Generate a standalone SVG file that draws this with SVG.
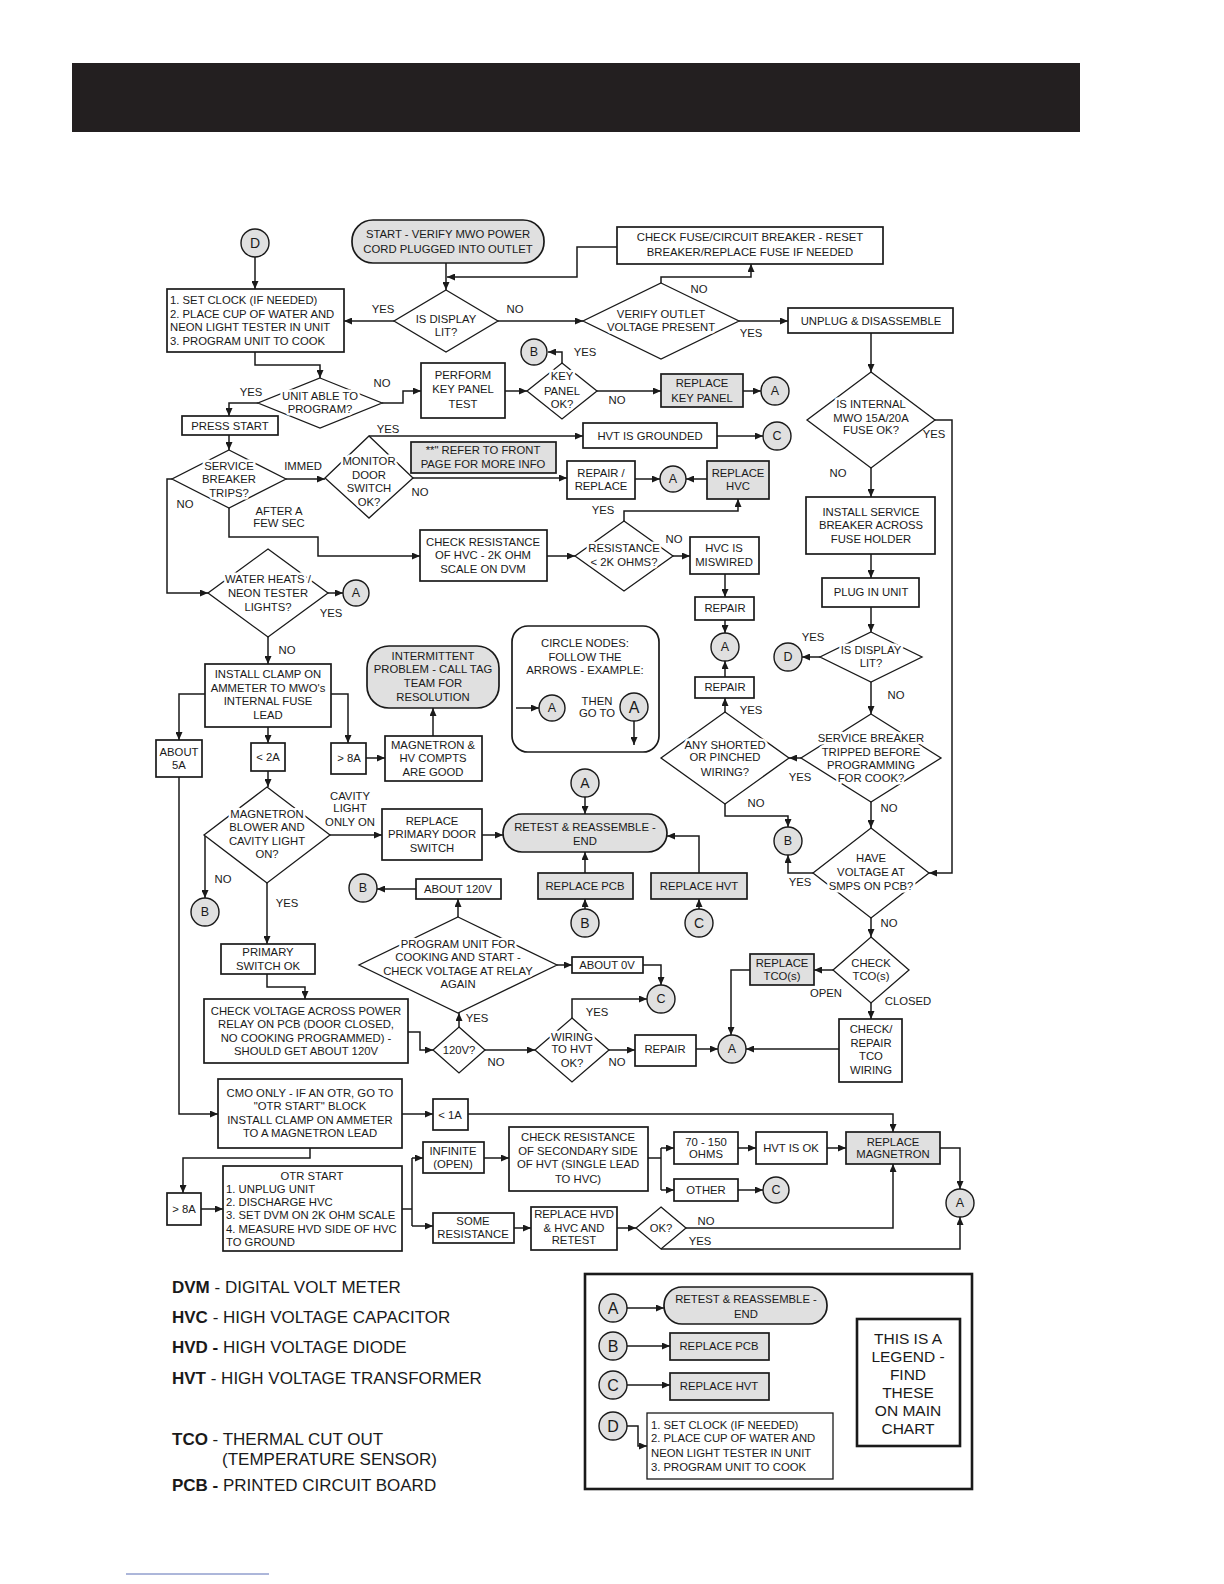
<svg xmlns="http://www.w3.org/2000/svg" width="1224" height="1584" viewBox="0 0 1224 1584">
<style>
.b{fill:#fff;stroke:#1a1a1a;stroke-width:1.7}
.g{fill:#e0e0e0;stroke:#1a1a1a;stroke-width:1.7}
.d{fill:#fff;stroke:#1a1a1a;stroke-width:1.3}
.c{fill:#e0e0e0;stroke:#1a1a1a;stroke-width:1.4}
.k{fill:none;stroke:#1a1a1a;stroke-width:1.5}
.a{marker-end:url(#ah)}
text{font-family:"Liberation Sans",Arial,Helvetica,sans-serif;font-size:11.3px;fill:#1a1a1a;text-anchor:middle}
.l{text-anchor:start}
.h{paint-order:stroke;stroke:#fff;stroke-width:5px;stroke-linejoin:round}
.cl{font-size:12.5px}
.big{font-size:16px}
.leg{font-size:17px;text-anchor:start}
</style>
<defs>
<marker id="ah" viewBox="0 0 8 7" refX="8" refY="3.5" markerWidth="8" markerHeight="7" orient="auto" markerUnits="userSpaceOnUse"><path d="M0,0 L8,3.5 L0,7 z" fill="#1a1a1a"/></marker>
</defs>
<rect x="0" y="0" width="1224" height="1584" fill="#fff"/>
<rect id="banner" x="72" y="63" width="1008" height="69" fill="#231f20"/>

<g id="connectors" class="k">
<path class="a" d="M255,257 V289"/>
<path class="a" d="M446,263 V290"/>
<path class="a" d="M617,247 H577 V277 H447"/>
<path class="a" d="M394,321 H344"/>
<path class="a" d="M498,321 H583"/>
<path class="a" d="M661,283 V277 H751 V264"/>
<path class="a" d="M739,321 H788"/>
<path class="a" d="M255,352 V365 H320 V378"/>
<path class="a" d="M258,403 H229 V416"/>
<path class="a" d="M382,403 H403 V391 H421"/>
<path class="a" d="M229,435 V450"/>
<path class="a" d="M172,479 H167 V593 H208"/>
<path class="a" d="M286,479 H325"/>
<path class="a" d="M229,508 V537 H318 V556 H420"/>
<path class="a" d="M369,436 H583"/>
<path class="a" d="M413,478 H567"/>
<path class="a" d="M505,391 H527"/>
<path class="a" d="M562,363 V352 H548"/>
<path class="a" d="M597,391 H661"/>
<path class="a" d="M743,391 H761"/>
<path class="a" d="M717,436 H763"/>
<path class="a" d="M635,479 H660"/>
<path class="a" d="M707,479 H686"/>
<path class="a" d="M547,556 H575"/>
<path class="a" d="M624,521 V511 H738 V499"/>
<path class="a" d="M673,556 H690"/>
<path class="a" d="M725,574 V597"/>
<path class="a" d="M725,620 V633"/>
<path class="a" d="M725,677 V661"/>
<path class="a" d="M725,712 V698"/>
<path class="a" d="M725,804 V816 H788 V827"/>
<path class="a" d="M801,758 H789"/>
<path class="a" d="M871,333 V372"/>
<path class="a" d="M935,420 H952 V873 H929"/>
<path class="a" d="M871,468 V497"/>
<path class="a" d="M871,554 V578"/>
<path class="a" d="M871,607 V632"/>
<path class="a" d="M820,657 H802"/>
<path class="a" d="M871,682 V714"/>
<path class="a" d="M871,802 V828"/>
<path class="a" d="M813,873 H788 V855"/>
<path class="a" d="M871,918 V937"/>
<path class="a" d="M833,970 H814"/>
<path class="a" d="M750,970 H731 V1035"/>
<path class="a" d="M871,1003 V1019"/>
<path class="a" d="M839,1049 H746"/>
<path class="a" d="M696,1049 H718"/>
<path class="a" d="M609,1050 H635"/>
<path class="a" d="M572,1018 V999 H647"/>
<path class="a" d="M643,965 H661 V985"/>
<path class="a" d="M557,965 H572"/>
<path class="a" d="M458,917 V899"/>
<path class="a" d="M416,889 H377"/>
<path class="a" d="M459,1027 V1013"/>
<path class="a" d="M485,1050 H535"/>
<path class="a" d="M408,1032 H420 V1050 H433"/>
<path class="a" d="M267,974 V987 H305 V999"/>
<path class="a" d="M267,883 V944"/>
<path class="a" d="M205,835 V898"/>
<path class="a" d="M330,835 H382"/>
<path class="a" d="M482,835 H503"/>
<path class="a" d="M585,797 V814"/>
<path class="a" d="M585,873 V852"/>
<path class="a" d="M585,909 V899"/>
<path class="a" d="M699,873 V836 H667"/>
<path class="a" d="M699,909 V899"/>
<path class="a" d="M328,593 H343"/>
<path class="a" d="M268,637 V664"/>
<path class="a" d="M205,694 H179 V740"/>
<path class="a" d="M331,694 H348 V743"/>
<path class="a" d="M268,727 V743"/>
<path class="a" d="M268,771 V787"/>
<path class="a" d="M366,758 H385"/>
<path class="a" d="M433,736 V708"/>
<path class="a" d="M179,777 V1114 H218"/>
<path class="a" d="M402,1114 H433"/>
<path class="a" d="M468,1114 H893 V1132"/>
<path class="a" d="M310,1148 V1158 H183 V1193"/>
<path class="a" d="M201,1209 H223"/>
<path d="M402,1209 H412 M412,1158 V1226"/>
<path class="a" d="M412,1158 H423"/>
<path class="a" d="M412,1226 H433"/>
<path class="a" d="M484,1158 H509"/>
<path class="a" d="M514,1228 H531"/>
<path class="a" d="M617,1228 H636"/>
<path class="a" d="M686,1228 H893 V1164"/>
<path class="a" d="M661,1249 H960 V1217"/>
<path d="M648,1158 H661 M661,1148 V1190"/>
<path class="a" d="M661,1148 H674"/>
<path class="a" d="M661,1190 H674"/>
<path class="a" d="M738,1148 H756"/>
<path class="a" d="M827,1148 H846"/>
<path class="a" d="M940,1148 H960 V1189"/>
<path class="a" d="M738,1190 H763"/>
<path class="a" d="M627,1308 H664"/>
<path class="a" d="M627,1346 H670"/>
<path class="a" d="M627,1385 H670"/>
<path class="a" d="M627,1426 H638 V1446 H647"/>
</g>

<g id="labels">
<text x="383" y="313">YES</text><text x="515" y="313">NO</text>
<text x="699" y="293">NO</text><text x="751" y="337">YES</text>
<text x="251" y="396">YES</text><text x="382" y="387">NO</text>
<text x="185" y="508">NO</text><text x="303" y="470">IMMED</text>
<text x="279" y="515">AFTER A</text><text x="279" y="527">FEW SEC</text>
<text x="388" y="433">YES</text><text x="420" y="496">NO</text>
<text x="585" y="356">YES</text><text x="617" y="404">NO</text>
<text x="603" y="514">YES</text><text x="674" y="543">NO</text>
<text x="751" y="714">YES</text><text x="756" y="807">NO</text>
<text x="800" y="781">YES</text>
<text x="934" y="438">YES</text><text x="838" y="477">NO</text>
<text x="813" y="641">YES</text><text x="896" y="699">NO</text>
<text x="889" y="812">NO</text>
<text x="800" y="886">YES</text><text x="889" y="927">NO</text>
<text x="826" y="997">OPEN</text><text x="908" y="1005">CLOSED</text>
<text x="597" y="1016">YES</text><text x="617" y="1066">NO</text>
<text x="477" y="1022">YES</text><text x="496" y="1066">NO</text>
<text x="350" y="800">CAVITY</text><text x="350" y="812">LIGHT</text><text x="350" y="826">ONLY ON</text>
<text x="223" y="883">NO</text><text x="287" y="907">YES</text>
<text x="331" y="617">YES</text><text x="287" y="654">NO</text>
<text x="706" y="1225">NO</text><text x="700" y="1245">YES</text>
</g>

<g id="n-setclock"><rect class="b" x="167" y="289" width="177" height="63"/>
<text class="l" x="170" y="304">1. SET CLOCK (IF NEEDED)</text><text class="l" x="170" y="318">2. PLACE CUP OF WATER AND</text><text class="l" x="170" y="331">NEON LIGHT TESTER IN UNIT</text><text class="l" x="170" y="345">3. PROGRAM UNIT TO COOK</text></g>
<g id="n-start"><rect class="g" x="352" y="220" width="192" height="43" rx="21"/>
<text x="448" y="238">START - VERIFY MWO POWER</text><text x="448" y="253">CORD PLUGGED INTO OUTLET</text></g>
<g id="n-checkfuse"><rect class="b" x="617" y="227" width="266" height="37"/>
<text x="750" y="241">CHECK FUSE/CIRCUIT BREAKER - RESET</text><text x="750" y="256">BREAKER/REPLACE FUSE IF NEEDED</text></g>
<g id="n-display1"><polygon class="d" points="446,290 498,321 446,352 394,321"/>
<text class="h" x="446" y="323">IS DISPLAY</text><text class="h" x="446" y="336">LIT?</text></g>
<g id="n-verify"><polygon class="d" points="661,283 739,321 661,359 583,321"/>
<text class="h" x="661" y="318">VERIFY OUTLET</text><text class="h" x="661" y="331">VOLTAGE PRESENT</text></g>
<g id="n-unplug"><rect class="b" x="788" y="308" width="165" height="25"/><text x="871" y="325">UNPLUG &amp; DISASSEMBLE</text></g>
<g id="n-unitable"><polygon class="d" points="320,378 382,403 320,428 258,403"/>
<text class="h" x="320" y="400">UNIT ABLE TO</text><text class="h" x="320" y="413">PROGRAM?</text></g>
<g id="n-perform"><rect class="b" x="421" y="363" width="84" height="55"/>
<text x="463" y="379">PERFORM</text><text x="463" y="393">KEY PANEL</text><text x="463" y="408">TEST</text></g>
<g id="n-keypanel"><polygon class="d" points="562,363 597,391 562,419 527,391"/>
<text class="h" x="562" y="380">KEY</text><text class="h" x="562" y="395">PANEL</text><text class="h" x="562" y="408">OK?</text></g>
<g id="n-replkey"><rect class="g" x="661" y="374" width="82" height="33"/>
<text x="702" y="387">REPLACE</text><text x="702" y="402">KEY PANEL</text></g>
<g id="n-pressstart"><rect class="b" x="182" y="416" width="96" height="19"/><text x="230" y="430">PRESS START</text></g>
<g id="n-servtrips"><polygon class="d" points="229,450 286,479 229,508 172,479"/>
<text class="h" x="229" y="470">SERVICE</text><text class="h" x="229" y="483">BREAKER</text><text class="h" x="229" y="497">TRIPS?</text></g>
<g id="n-monitor"><polygon class="d" points="369,436 413,478 369,518 325,478"/>
<text class="h" x="369" y="465">MONITOR</text><text class="h" x="369" y="479">DOOR</text><text class="h" x="369" y="492">SWITCH</text><text class="h" x="369" y="506">OK?</text></g>
<g id="n-refer"><rect class="g" x="411" y="442" width="145" height="31"/>
<text x="483" y="454">**" REFER TO FRONT</text><text x="483" y="468">PAGE FOR MORE INFO</text></g>
<g id="n-hvtgnd"><rect class="b" x="583" y="423" width="134" height="25"/><text x="650" y="440">HVT IS GROUNDED</text></g>
<g id="n-repairrepl"><rect class="b" x="567" y="461" width="68" height="38"/>
<text x="601" y="477">REPAIR /</text><text x="601" y="490">REPLACE</text></g>
<g id="n-replhvc"><rect class="g" x="707" y="461" width="62" height="38"/>
<text x="738" y="477">REPLACE</text><text x="738" y="490">HVC</text></g>
<g id="n-checkres"><rect class="b" x="420" y="530" width="127" height="51"/>
<text x="483" y="546">CHECK RESISTANCE</text><text x="483" y="559">OF HVC - 2K OHM</text><text x="483" y="573">SCALE ON DVM</text></g>
<g id="n-resist"><polygon class="d" points="624,521 673,556 624,591 575,556"/>
<text class="h" x="624" y="552">RESISTANCE</text><text class="h" x="624" y="566">&lt; 2K OHMS?</text></g>
<g id="n-miswired"><rect class="b" x="690" y="537" width="69" height="37"/>
<text x="724" y="552">HVC IS</text><text x="724" y="566">MISWIRED</text></g>
<g id="n-repair1"><rect class="b" x="695" y="597" width="59" height="23"/><text x="725" y="612">REPAIR</text></g>
<g id="n-repair2"><rect class="b" x="695" y="677" width="59" height="21"/><text x="725" y="691">REPAIR</text></g>
<g id="n-shorted"><polygon class="d" points="725,712 789,758 725,804 661,758"/>
<text class="h" x="725" y="749">ANY SHORTED</text><text class="h" x="725" y="761">OR PINCHED</text><text class="h" x="725" y="776">WIRING?</text></g>
<g id="n-internal"><polygon class="d" points="871,372 935,420 871,468 807,420"/>
<text class="h" x="871" y="408">IS INTERNAL</text><text class="h" x="871" y="422">MWO 15A/20A</text><text class="h" x="871" y="434">FUSE OK?</text></g>
<g id="n-installsb"><rect class="b" x="806" y="497" width="129" height="57"/>
<text x="871" y="516">INSTALL SERVICE</text><text x="871" y="529">BREAKER ACROSS</text><text x="871" y="543">FUSE HOLDER</text></g>
<g id="n-plugin"><rect class="b" x="822" y="578" width="97" height="29"/><text x="871" y="596">PLUG IN UNIT</text></g>
<g id="n-display2"><polygon class="d" points="871,632 922,657 871,682 820,657"/>
<text class="h" x="871" y="654">IS DISPLAY</text><text class="h" x="871" y="667">LIT?</text></g>
<g id="n-tripped"><polygon class="d" points="871,714 941,758 871,802 801,758"/>
<text class="h" x="871" y="742">SERVICE BREAKER</text><text class="h" x="871" y="756">TRIPPED BEFORE</text><text class="h" x="871" y="769">PROGRAMMING</text><text class="h" x="871" y="782">FOR COOK?</text></g>
<g id="n-havevolt"><polygon class="d" points="871,828 929,873 871,918 813,873"/>
<text class="h" x="871" y="862">HAVE</text><text class="h" x="871" y="876">VOLTAGE AT</text><text class="h" x="871" y="890">SMPS ON PCB?</text></g>
<g id="n-checktco"><polygon class="d" points="871,937 909,970 871,1003 833,970"/>
<text class="h" x="871" y="967">CHECK</text><text class="h" x="871" y="980">TCO(s)</text></g>
<g id="n-repltco"><rect class="g" x="750" y="954" width="64" height="31"/>
<text x="782" y="967">REPLACE</text><text x="782" y="980">TCO(s)</text></g>
<g id="n-repairtco"><rect class="b" x="839" y="1019" width="63" height="63"/>
<text x="871" y="1033">CHECK/</text><text x="871" y="1047">REPAIR</text><text x="871" y="1060">TCO</text><text x="871" y="1074">WIRING</text></g>
<g id="n-repair3"><rect class="b" x="635" y="1035" width="61" height="31"/><text x="665" y="1053">REPAIR</text></g>
<g id="n-wiring"><polygon class="d" points="572,1018 609,1050 572,1082 535,1050"/>
<text class="h" x="572" y="1041">WIRING</text><text class="h" x="572" y="1053">TO HVT</text><text class="h" x="572" y="1067">OK?</text></g>
<g id="n-120v"><polygon class="d" points="459,1027 485,1050 459,1073 433,1050"/><text x="459" y="1054">120V?</text></g>
<g id="n-program"><polygon class="d" points="458,917 557,965 458,1013 359,965"/>
<text class="h" x="458" y="948">PROGRAM UNIT FOR</text><text class="h" x="458" y="961">COOKING AND START -</text><text class="h" x="458" y="975">CHECK VOLTAGE AT RELAY</text><text class="h" x="458" y="988">AGAIN</text></g>
<g id="n-about120"><rect class="b" x="416" y="879" width="85" height="20"/><text x="458" y="893">ABOUT 120V</text></g>
<g id="n-about0"><rect class="b" x="572" y="957" width="71" height="16"/><text x="607" y="969">ABOUT 0V</text></g>
<g id="n-magblower"><polygon class="d" points="267,787 330,835 267,883 204,835"/>
<text class="h" x="267" y="818">MAGNETRON</text><text class="h" x="267" y="831">BLOWER AND</text><text class="h" x="267" y="845">CAVITY LIGHT</text><text class="h" x="267" y="858">ON?</text></g>
<g id="n-primok"><rect class="b" x="221" y="944" width="94" height="30"/>
<text x="268" y="956">PRIMARY</text><text x="268" y="970">SWITCH OK</text></g>
<g id="n-checkvolt"><rect class="b" x="204" y="999" width="204" height="64"/>
<text x="306" y="1015">CHECK VOLTAGE ACROSS POWER</text><text x="306" y="1028">RELAY ON PCB (DOOR CLOSED,</text><text x="306" y="1042">NO COOKING PROGRAMMED) -</text><text x="306" y="1055">SHOULD GET ABOUT 120V</text></g>
<g id="n-replprim"><rect class="b" x="382" y="809" width="100" height="51"/>
<text x="432" y="825">REPLACE</text><text x="432" y="838">PRIMARY DOOR</text><text x="432" y="852">SWITCH</text></g>
<g id="n-retest"><rect class="g" x="503" y="814" width="164" height="38" rx="19"/>
<text x="585" y="831">RETEST &amp; REASSEMBLE -</text><text x="585" y="845">END</text></g>
<g id="n-replpcb"><rect class="g" x="538" y="873" width="95" height="26"/><text x="585" y="890">REPLACE PCB</text></g>
<g id="n-replhvt"><rect class="g" x="651" y="873" width="96" height="26"/><text x="699" y="890">REPLACE HVT</text></g>
<g id="n-water"><polygon class="d" points="268,549 328,593 268,637 208,593"/>
<text class="h" x="268" y="583">WATER HEATS /</text><text class="h" x="268" y="597">NEON TESTER</text><text class="h" x="268" y="611">LIGHTS?</text></g>
<g id="n-clamp"><rect class="b" x="205" y="664" width="126" height="63"/>
<text x="268" y="678">INSTALL CLAMP ON</text><text x="268" y="692">AMMETER TO MWO's</text><text x="268" y="705">INTERNAL FUSE</text><text x="268" y="719">LEAD</text></g>
<g id="n-about5"><rect class="b" x="156" y="740" width="46" height="37"/>
<text x="179" y="756">ABOUT</text><text x="179" y="769">5A</text></g>
<g id="n-lt2a"><rect class="b" x="251" y="743" width="34" height="28"/><text x="268" y="761">&lt; 2A</text></g>
<g id="n-gt8a"><rect class="b" x="331" y="743" width="35" height="31"/><text x="349" y="762">&gt; 8A</text></g>
<g id="n-maggood"><rect class="b" x="385" y="736" width="97" height="45"/>
<text x="433" y="749">MAGNETRON &amp;</text><text x="433" y="762">HV COMPTS</text><text x="433" y="776">ARE GOOD</text></g>
<g id="n-intermit"><rect class="g" x="367" y="646" width="132" height="62" rx="22"/>
<text x="433" y="660">INTERMITTENT</text><text x="433" y="673">PROBLEM - CALL TAG</text><text x="433" y="687">TEAM FOR</text><text x="433" y="701">RESOLUTION</text></g>
<g id="n-circlenote"><rect class="b" x="512" y="626" width="147" height="126" rx="16"/>
<text x="585" y="647">CIRCLE NODES:</text><text x="585" y="661">FOLLOW THE</text><text x="585" y="674">ARROWS - EXAMPLE:</text>
<text x="597" y="705">THEN</text><text x="597" y="717">GO TO</text>
<path class="k a" d="M516,708 H539"/>
<path class="k a" d="M634,721 V745"/></g>
<g id="n-cmo"><rect class="b" x="218" y="1079" width="184" height="69"/>
<text x="310" y="1097">CMO ONLY - IF AN OTR, GO TO</text><text x="310" y="1110">"OTR START" BLOCK</text><text x="310" y="1124">INSTALL CLAMP ON AMMETER</text><text x="310" y="1137">TO A MAGNETRON LEAD</text></g>
<g id="n-lt1a"><rect class="b" x="433" y="1099" width="35" height="31"/><text x="450" y="1119">&lt; 1A</text></g>
<g id="n-gt8a2"><rect class="b" x="167" y="1193" width="34" height="32"/><text x="184" y="1213">&gt; 8A</text></g>
<g id="n-otr"><rect class="b" x="223" y="1166" width="179" height="85"/>
<text x="312" y="1180">OTR START</text><text class="l" x="226" y="1193">1. UNPLUG UNIT</text><text class="l" x="226" y="1206">2. DISCHARGE HVC</text><text class="l" x="226" y="1219">3. SET DVM ON 2K OHM SCALE</text><text class="l" x="226" y="1233">4. MEASURE HVD SIDE OF HVC</text><text class="l" x="226" y="1246">TO GROUND</text></g>
<g id="n-infinite"><rect class="b" x="423" y="1142" width="61" height="31"/>
<text x="453" y="1155">INFINITE</text><text x="453" y="1168">(OPEN)</text></g>
<g id="n-someres"><rect class="b" x="433" y="1213" width="81" height="30"/>
<text x="473" y="1225">SOME</text><text x="473" y="1238">RESISTANCE</text></g>
<g id="n-checksec"><rect class="b" x="509" y="1127" width="139" height="64"/>
<text x="578" y="1141">CHECK RESISTANCE</text><text x="578" y="1155">OF SECONDARY SIDE</text><text x="578" y="1168">OF HVT (SINGLE LEAD</text><text x="578" y="1183">TO HVC)</text></g>
<g id="n-replhvd"><rect class="b" x="531" y="1207" width="86" height="43"/>
<text x="574" y="1218">REPLACE HVD</text><text x="574" y="1232">&amp; HVC AND</text><text x="574" y="1244">RETEST</text></g>
<g id="n-ok"><polygon class="d" points="661,1207 686,1228 661,1249 636,1228"/><text x="661" y="1232">OK?</text></g>
<g id="n-ohms"><rect class="b" x="674" y="1132" width="64" height="32"/>
<text x="706" y="1146">70 - 150</text><text x="706" y="1158">OHMS</text></g>
<g id="n-hvtok"><rect class="b" x="756" y="1132" width="71" height="32"/><text x="791" y="1152">HVT IS OK</text></g>
<g id="n-replmag"><rect class="g" x="846" y="1132" width="94" height="32"/>
<text x="893" y="1146">REPLACE</text><text x="893" y="1158">MAGNETRON</text></g>
<g id="n-other"><rect class="b" x="674" y="1179" width="64" height="22"/><text x="706" y="1194">OTHER</text></g>

<g id="circles">
<g id="c-d1"><circle class="c" cx="255" cy="243" r="14"/><text style="font-size:14px" x="255" y="248">D</text></g>
<g id="c-b1"><circle class="c" cx="534" cy="352" r="13"/><text class="cl" x="534" y="356">B</text></g>
<g id="c-a1"><circle class="c" cx="775" cy="391" r="14"/><text class="cl" x="775" y="395">A</text></g>
<g id="c-c1"><circle class="c" cx="777" cy="436" r="14"/><text class="cl" x="777" y="440">C</text></g>
<g id="c-a2"><circle class="c" cx="673" cy="479" r="13"/><text class="cl" x="673" y="483">A</text></g>
<g id="c-a3"><circle class="c" cx="356" cy="593" r="13"/><text class="cl" x="356" y="597">A</text></g>
<g id="c-a4"><circle class="c" cx="725" cy="647" r="14"/><text class="cl" x="725" y="651">A</text></g>
<g id="c-d2"><circle class="c" cx="788" cy="657" r="14"/><text class="cl" x="788" y="661">D</text></g>
<g id="c-b2"><circle class="c" cx="788" cy="841" r="14"/><text class="cl" x="788" y="845">B</text></g>
<g id="c-a5"><circle class="c" cx="585" cy="783" r="14"/><text style="font-size:14px" x="585" y="788">A</text></g>
<g id="c-b3"><circle class="c" cx="585" cy="923" r="14"/><text style="font-size:14px" x="585" y="928">B</text></g>
<g id="c-c2"><circle class="c" cx="699" cy="923" r="14"/><text style="font-size:14px" x="699" y="928">C</text></g>
<g id="c-b4"><circle class="c" cx="363" cy="888" r="14"/><text class="cl" x="363" y="892">B</text></g>
<g id="c-c3"><circle class="c" cx="661" cy="999" r="14"/><text class="cl" x="661" y="1003">C</text></g>
<g id="c-a6"><circle class="c" cx="732" cy="1049" r="14"/><text class="cl" x="732" y="1053">A</text></g>
<g id="c-b5"><circle class="c" cx="205" cy="912" r="14"/><text class="cl" x="205" y="916">B</text></g>
<g id="c-a7"><circle class="c" cx="552" cy="708" r="13"/><text class="cl" x="552" y="712">A</text></g>
<g id="c-a8"><circle class="c" cx="634" cy="707" r="14"/><text class="big" x="634" y="713">A</text></g>
<g id="c-a9"><circle class="c" cx="960" cy="1203" r="14"/><text class="cl" x="960" y="1207">A</text></g>
<g id="c-c4"><circle class="c" cx="776" cy="1190" r="13"/><text class="cl" x="776" y="1194">C</text></g>
</g>

<g id="legend">
<rect x="585" y="1274" width="387" height="215" fill="none" stroke="#1a1a1a" stroke-width="2.6"/>
<g id="lg-a"><circle class="c" cx="613" cy="1308" r="14"/><text class="big" x="613" y="1314">A</text></g>
<g id="lg-retest"><rect class="g" x="664" y="1287" width="163" height="37" rx="18"/>
<text x="746" y="1303">RETEST &amp; REASSEMBLE -</text><text x="746" y="1318">END</text></g>
<g id="lg-b"><circle class="c" cx="613" cy="1346" r="14"/><text class="big" x="613" y="1352">B</text></g>
<g id="lg-pcb"><rect class="g" x="670" y="1333" width="99" height="27"/><text x="719" y="1350">REPLACE PCB</text></g>
<g id="lg-c"><circle class="c" cx="613" cy="1385" r="14"/><text class="big" x="613" y="1391">C</text></g>
<g id="lg-hvt"><rect class="g" x="670" y="1373" width="99" height="27"/><text x="719" y="1390">REPLACE HVT</text></g>
<g id="lg-d"><circle class="c" cx="613" cy="1426" r="14"/><text class="big" x="613" y="1432">D</text></g>
<g id="lg-setclock"><rect class="b" x="647" y="1413" width="186" height="66" style="stroke-width:1.3"/>
<text class="l" x="651" y="1429">1. SET CLOCK (IF NEEDED)</text><text class="l" x="651" y="1442">2. PLACE CUP OF WATER AND</text><text class="l" x="651" y="1457">NEON LIGHT TESTER IN UNIT</text><text class="l" x="651" y="1471">3. PROGRAM UNIT TO COOK</text></g>
<g id="lg-note"><rect x="857" y="1319" width="103" height="127" fill="#fff" stroke="#1a1a1a" stroke-width="2.6"/>
<text style="font-size:15.5px" x="908" y="1344">THIS IS A</text><text style="font-size:15.5px" x="908" y="1362">LEGEND -</text><text style="font-size:15.5px" x="908" y="1380">FIND</text><text style="font-size:15.5px" x="908" y="1398">THESE</text><text style="font-size:15.5px" x="908" y="1416">ON MAIN</text><text style="font-size:15.5px" x="908" y="1434">CHART</text></g>
</g>

<g id="abbreviations">
<text class="leg" x="172" y="1293"><tspan font-weight="bold">DVM</tspan> - DIGITAL VOLT METER</text>
<text class="leg" x="172" y="1323"><tspan font-weight="bold">HVC</tspan> - HIGH VOLTAGE CAPACITOR</text>
<text class="leg" x="172" y="1353"><tspan font-weight="bold">HVD -</tspan> HIGH VOLTAGE DIODE</text>
<text class="leg" x="172" y="1384"><tspan font-weight="bold">HVT</tspan> - HIGH VOLTAGE TRANSFORMER</text>
<text class="leg" x="172" y="1445"><tspan font-weight="bold">TCO</tspan> - THERMAL CUT OUT</text>
<text class="leg" x="222" y="1465">(TEMPERATURE SENSOR)</text>
<text class="leg" x="172" y="1491"><tspan font-weight="bold">PCB -</tspan> PRINTED CIRCUIT BOARD</text>
</g>
<line x1="126" y1="1574" x2="269" y2="1574" stroke="#5a6fb5" stroke-width="1"/>
</svg>
